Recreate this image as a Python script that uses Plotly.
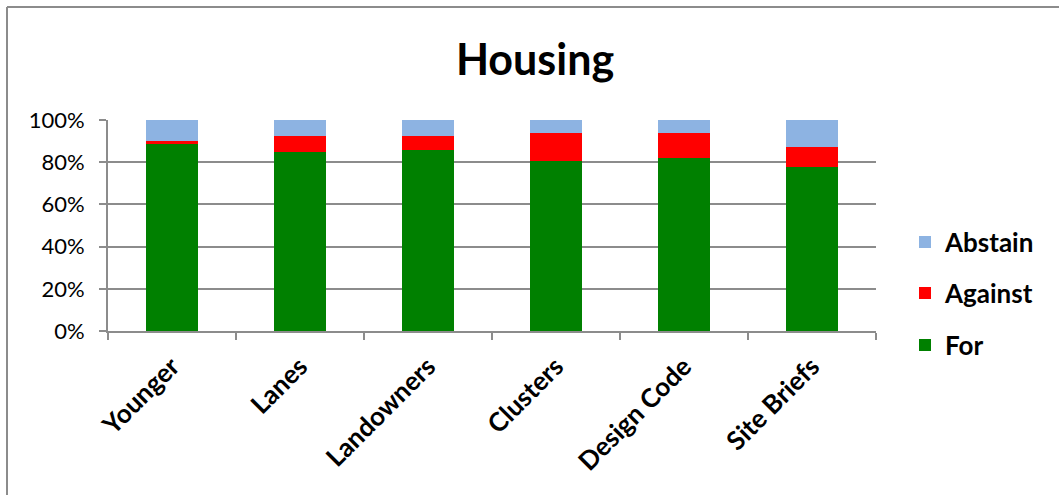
import plotly.graph_objects as go

categories = ["Younger", "Lanes", "Landowners", "Clusters", "Design Code", "Site Briefs"]
for_vals = [88.8, 84.6, 85.9, 80.7, 81.9, 77.8]
against_vals = [1.1, 7.6, 6.3, 13.1, 11.9, 9.2]
abstain_vals = [10.1, 7.8, 7.8, 6.2, 6.2, 13.0]
y_ticks = [0, 20, 40, 60, 80, 100]
y_tick_labels = ["0%", "20%", "40%", "60%", "80%", "100%"]

FONT = "Lato"
W, H = 1059, 495
L, R, T, B = 108, 1059 - 876, 120, 495 - 331
pw, ph = W - L - R, H - T - B

def px(xp):
    return (xp - L) / pw

def py(yp):
    return (H - B - yp) / ph

fig = go.Figure()
fig.add_bar(x=categories, y=for_vals, name="For", marker_color="#008000",
            marker_line_width=0, legend="legend3", showlegend=True)
fig.add_bar(x=categories, y=against_vals, name="Against", marker_color="#ff0000",
            marker_line_width=0, legend="legend2", showlegend=True)
fig.add_bar(x=categories, y=abstain_vals, name="Abstain", marker_color="#8db3e2",
            marker_line_width=0, legend="legend", showlegend=True)

legfont = dict(family=FONT, size=26, color="black", weight="bold")
def leg(yc):
    return dict(x=px(905), y=py(yc), xanchor="left", yanchor="middle",
                font=legfont, bgcolor="rgba(0,0,0,0)", itemwidth=30, visible=True)

fig.update_layout(
    width=W, height=H,
    margin=dict(l=L, r=R, t=T, b=B, autoexpand=False),
    paper_bgcolor="white", plot_bgcolor="white",
    barmode="stack", bargap=0.6, showlegend=True,
    title=dict(text="<b>Housing</b>", x=535 / W, xanchor="center",
               y=1 - 60 / H, yanchor="middle",
               font=dict(family=FONT, size=43, color="black")),
    legend=leg(242), legend2=leg(293), legend3=leg(345),
    font=dict(family=FONT, color="black"),
)
fig.update_xaxes(
    tickangle=-45, tickson="boundaries", ticks="outside", ticklen=7,
    tickcolor="#8c8c8c", tickwidth=2,
    showline=True, linecolor="#8c8c8c", linewidth=2,
    tickfont=dict(family=FONT, size=26, color="black", weight="bold"),
    ticklabelstandoff=8, showgrid=False,
)
fig.update_yaxes(
    range=[0, 100], tickvals=y_ticks, ticktext=y_tick_labels,
    ticks="outside", ticklen=7, tickcolor="#8c8c8c", tickwidth=2,
    showline=True, linecolor="#8c8c8c", linewidth=2,
    showgrid=True, gridcolor="#8c8c8c", gridwidth=2,
    tickfont=dict(family=FONT, size=22, color="black"),
    ticklabelstandoff=10, zeroline=False,
)

# outer chart border (top and left visible)
fig.add_shape(type="line", xref="paper", yref="paper",
              x0=px(7), y0=py(7), x1=px(1059), y1=py(7),
              line=dict(color="#8c8c8c", width=2))
fig.add_shape(type="line", xref="paper", yref="paper",
              x0=px(7), y0=py(7), x1=px(7), y1=py(495),
              line=dict(color="#8c8c8c", width=2))

fig.write_html("out.html", config={"displayModeBar": False},
               post_script="document.body.style.margin='0';")
